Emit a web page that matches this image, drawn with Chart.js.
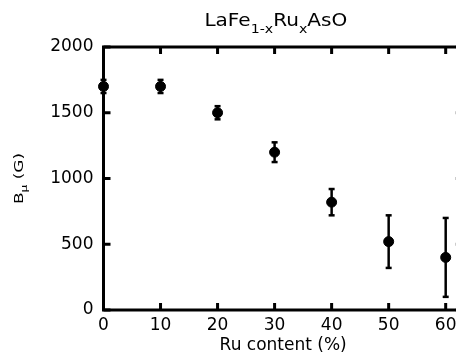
<!DOCTYPE html>
<html><head><meta charset="utf-8">
<style>html,body{margin:0;padding:0;overflow:hidden;background:#fff}#wrap{width:472px;height:354px;position:relative}</style>
<script src="https://cdn.jsdelivr.net/npm/chart.js@4"></script>
</head><body><div id="wrap"><canvas id="c"></canvas></div>
<script>
const ruContent = [0, 10, 20, 30, 40, 50, 60];
const bMu = [1700, 1700, 1500, 1200, 820, 520, 400];
const bMuErr = [50, 50, 50, 75, 100, 200, 300];
const xTicks = [0, 10, 20, 30, 40, 50, 60];
const yTicks = [0, 500, 1000, 1500, 2000];
const xRange = [0, 63];
const yRange = [0, 2000];
const titleParts = [['LaFe', 0], ['1-x', 1], ['Ru', 0], ['x', 1], ['AsO', 0]];
const yTitleParts = [['B', 0], ['\u03bc', 1], [' (G)', 0]];
const xTitle = 'Ru content (%)';
const FONT = '"DejaVu Sans", sans-serif';

function richWidth(ctx, parts, size, subSize) {
  let w = 0;
  parts.forEach(([t, s]) => { ctx.font = (s ? subSize : size) + 'px ' + FONT; w += ctx.measureText(t).width; });
  return w;
}
function drawRich(ctx, parts, size, subSize, subDy) {
  let x = 0;
  parts.forEach(([t, s]) => {
    ctx.font = (s ? subSize : size) + 'px ' + FONT;
    ctx.fillText(t, x, s ? subDy : 0);
    x += ctx.measureText(t).width;
  });
}

const framePlugin = {
  id: 'frame',
  beforeDatasetsDraw(chart) {
    const { ctx, chartArea: a, scales: { x, y } } = chart;
    ctx.save();
    ctx.strokeStyle = '#000';
    ctx.lineWidth = 3;
    ctx.strokeRect(a.left, a.top, a.right - a.left, a.bottom - a.top);
    ctx.beginPath();
    const L = 7;
    x.ticks.forEach(t => {
      const px = x.getPixelForValue(t.value);
      ctx.moveTo(px, a.bottom); ctx.lineTo(px, a.bottom - L);
      ctx.moveTo(px, a.top); ctx.lineTo(px, a.top + L);
    });
    y.ticks.forEach(t => {
      const py = y.getPixelForValue(t.value);
      ctx.moveTo(a.left, py); ctx.lineTo(a.left + L, py);
      ctx.moveTo(a.right, py); ctx.lineTo(a.right - L, py);
    });
    ctx.stroke();
    ctx.restore();
  },
  afterDraw(chart) {
    const { ctx, chartArea: a } = chart;
    ctx.save();
    ctx.fillStyle = '#000';
    ctx.textBaseline = 'alphabetic';
    ctx.textAlign = 'left';
    ctx.save();
    ctx.translate(275.8, 25.7);
    ctx.scale(1.18, 1);
    const tw = richWidth(ctx, titleParts, 17, 12);
    ctx.translate(-tw / 2, 0);
    drawRich(ctx, titleParts, 17, 12, 7);
    ctx.restore();
    ctx.save();
    ctx.translate(23.4, (a.top + a.bottom) / 2);
    ctx.rotate(-Math.PI / 2);
    ctx.scale(1.3, 1);
    const yw = richWidth(ctx, yTitleParts, 13, 9.5);
    ctx.translate(-yw / 2, 0);
    drawRich(ctx, yTitleParts, 13, 9.5, 3.5);
    ctx.restore();
    ctx.restore();
  }
};

const datasets = [{
  type: 'scatter',
  data: ruContent.map((v, i) => ({ x: v, y: bMu[i] })),
  backgroundColor: '#000',
  borderColor: '#000',
  pointRadius: 5,
  pointHoverRadius: 5,
  clip: false
}].concat(ruContent.map((v, i) => ({
  type: 'line',
  data: [{ x: v, y: bMu[i] - bMuErr[i] }, { x: v, y: bMu[i] + bMuErr[i] }],
  borderColor: '#000',
  backgroundColor: '#000',
  borderWidth: 2.5,
  pointStyle: 'line',
  pointRadius: 3,
  pointBorderWidth: 2.5,
  pointHoverRadius: 3,
  fill: false,
  clip: false
})));

new Chart(document.getElementById('c'), {
  data: { datasets },
  plugins: [framePlugin],
  options: {
    responsive: true,
    maintainAspectRatio: false,
    animation: false,
    events: [],
    layout: { padding: { top: 47, right: 9.2, bottom: 0, left: 0 } },
    plugins: { legend: { display: false }, tooltip: { enabled: false }, title: { display: false } },
    scales: {
      x: {
        type: 'linear',
        min: xRange[0], max: xRange[1],
        afterBuildTicks: s => { s.ticks = xTicks.map(v => ({ value: v })); },
        afterFit: s => { s.height = 44; },
        grid: { display: false, drawTicks: false },
        border: { display: false },
        ticks: { color: '#000', font: { family: FONT, size: 17 }, padding: 5, autoSkip: false, maxRotation: 0, callback: v => String(v) },
        title: { display: true, text: xTitle, color: '#000', font: { family: FONT, size: 17, lineHeight: 1 }, padding: { top: 0, bottom: 0 } }
      },
      y: {
        type: 'linear',
        min: yRange[0], max: yRange[1],
        afterBuildTicks: s => { s.ticks = yTicks.map(v => ({ value: v })); },
        afterFit: s => { s.width = 103.5; },
        grid: { display: false, drawTicks: false },
        border: { display: false },
        ticks: { color: '#000', font: { family: FONT, size: 17 }, padding: 10, callback: v => String(v) }
      }
    }
  }
});
</script>
</body></html>
